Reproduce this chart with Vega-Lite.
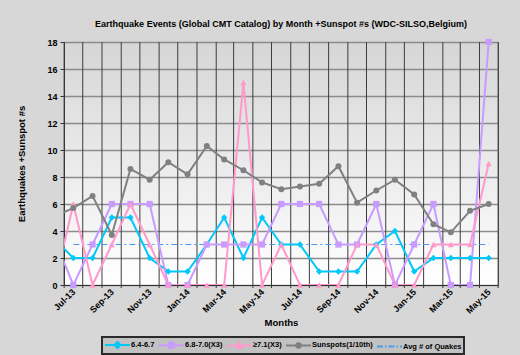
{
  "$schema": "https://vega.github.io/schema/vega-lite/v6.json",
  "width": 434,
  "height": 243,
  "autosize": "none",
  "padding": {"left": 64, "top": 42, "right": 22, "bottom": 70},
  "background": "#d7d7d7",
  "title": {"text": "Earthquake Events (Global CMT Catalog) by Month +Sunspot #s (WDC-SILSO,Belgium)", "font": "Liberation Sans", "fontSize": 9, "fontWeight": "bold", "color": "#000000", "anchor": "middle", "offset": 9},
  "data": {"values": [
    {"month": "2013/06/01", "series": "6.4-6.7", "value": 3.4},
    {"month": "2013/07/01", "series": "6.4-6.7", "value": 2},
    {"month": "2013/08/01", "series": "6.4-6.7", "value": 2},
    {"month": "2013/09/01", "series": "6.4-6.7", "value": 5},
    {"month": "2013/10/01", "series": "6.4-6.7", "value": 5},
    {"month": "2013/11/01", "series": "6.4-6.7", "value": 2},
    {"month": "2013/12/01", "series": "6.4-6.7", "value": 1},
    {"month": "2014/01/01", "series": "6.4-6.7", "value": 1},
    {"month": "2014/02/01", "series": "6.4-6.7", "value": 3},
    {"month": "2014/03/01", "series": "6.4-6.7", "value": 5},
    {"month": "2014/04/01", "series": "6.4-6.7", "value": 2},
    {"month": "2014/05/01", "series": "6.4-6.7", "value": 5},
    {"month": "2014/06/01", "series": "6.4-6.7", "value": 3},
    {"month": "2014/07/01", "series": "6.4-6.7", "value": 3},
    {"month": "2014/08/01", "series": "6.4-6.7", "value": 1},
    {"month": "2014/09/01", "series": "6.4-6.7", "value": 1},
    {"month": "2014/10/01", "series": "6.4-6.7", "value": 1},
    {"month": "2014/11/01", "series": "6.4-6.7", "value": 3},
    {"month": "2014/12/01", "series": "6.4-6.7", "value": 4},
    {"month": "2015/01/01", "series": "6.4-6.7", "value": 1},
    {"month": "2015/02/01", "series": "6.4-6.7", "value": 2},
    {"month": "2015/03/01", "series": "6.4-6.7", "value": 2},
    {"month": "2015/04/01", "series": "6.4-6.7", "value": 2},
    {"month": "2015/05/01", "series": "6.4-6.7", "value": 2},
    {"month": "2013/06/01", "series": "6.8-7.0(X3)", "value": 3.4},
    {"month": "2013/07/01", "series": "6.8-7.0(X3)", "value": 0},
    {"month": "2013/08/01", "series": "6.8-7.0(X3)", "value": 3},
    {"month": "2013/09/01", "series": "6.8-7.0(X3)", "value": 6},
    {"month": "2013/10/01", "series": "6.8-7.0(X3)", "value": 6},
    {"month": "2013/11/01", "series": "6.8-7.0(X3)", "value": 6},
    {"month": "2013/12/01", "series": "6.8-7.0(X3)", "value": 0},
    {"month": "2014/01/01", "series": "6.8-7.0(X3)", "value": 0},
    {"month": "2014/02/01", "series": "6.8-7.0(X3)", "value": 3},
    {"month": "2014/03/01", "series": "6.8-7.0(X3)", "value": 3},
    {"month": "2014/04/01", "series": "6.8-7.0(X3)", "value": 3},
    {"month": "2014/05/01", "series": "6.8-7.0(X3)", "value": 3},
    {"month": "2014/06/01", "series": "6.8-7.0(X3)", "value": 6},
    {"month": "2014/07/01", "series": "6.8-7.0(X3)", "value": 6},
    {"month": "2014/08/01", "series": "6.8-7.0(X3)", "value": 6},
    {"month": "2014/09/01", "series": "6.8-7.0(X3)", "value": 3},
    {"month": "2014/10/01", "series": "6.8-7.0(X3)", "value": 3},
    {"month": "2014/11/01", "series": "6.8-7.0(X3)", "value": 6},
    {"month": "2014/12/01", "series": "6.8-7.0(X3)", "value": 0},
    {"month": "2015/01/01", "series": "6.8-7.0(X3)", "value": 3},
    {"month": "2015/02/01", "series": "6.8-7.0(X3)", "value": 6},
    {"month": "2015/03/01", "series": "6.8-7.0(X3)", "value": 0},
    {"month": "2015/04/01", "series": "6.8-7.0(X3)", "value": 0},
    {"month": "2015/05/01", "series": "6.8-7.0(X3)", "value": 18},
    {"month": "2013/06/01", "series": "≥7.1(X3)", "value": 0},
    {"month": "2013/07/01", "series": "≥7.1(X3)", "value": 6},
    {"month": "2013/08/01", "series": "≥7.1(X3)", "value": 0},
    {"month": "2013/09/01", "series": "≥7.1(X3)", "value": 3},
    {"month": "2013/10/01", "series": "≥7.1(X3)", "value": 6},
    {"month": "2013/11/01", "series": "≥7.1(X3)", "value": 3},
    {"month": "2013/12/01", "series": "≥7.1(X3)", "value": 0},
    {"month": "2014/01/01", "series": "≥7.1(X3)", "value": 0},
    {"month": "2014/02/01", "series": "≥7.1(X3)", "value": 0},
    {"month": "2014/03/01", "series": "≥7.1(X3)", "value": 0},
    {"month": "2014/04/01", "series": "≥7.1(X3)", "value": 15},
    {"month": "2014/05/01", "series": "≥7.1(X3)", "value": 0},
    {"month": "2014/06/01", "series": "≥7.1(X3)", "value": 3},
    {"month": "2014/07/01", "series": "≥7.1(X3)", "value": 0},
    {"month": "2014/08/01", "series": "≥7.1(X3)", "value": 0},
    {"month": "2014/09/01", "series": "≥7.1(X3)", "value": 0},
    {"month": "2014/10/01", "series": "≥7.1(X3)", "value": 3},
    {"month": "2014/11/01", "series": "≥7.1(X3)", "value": 3},
    {"month": "2014/12/01", "series": "≥7.1(X3)", "value": 0},
    {"month": "2015/01/01", "series": "≥7.1(X3)", "value": 0},
    {"month": "2015/02/01", "series": "≥7.1(X3)", "value": 3},
    {"month": "2015/03/01", "series": "≥7.1(X3)", "value": 3},
    {"month": "2015/04/01", "series": "≥7.1(X3)", "value": 3},
    {"month": "2015/05/01", "series": "≥7.1(X3)", "value": 9},
    {"month": "2013/06/01", "series": "Sunspots(1/10th)", "value": 5.1},
    {"month": "2013/07/01", "series": "Sunspots(1/10th)", "value": 5.7},
    {"month": "2013/08/01", "series": "Sunspots(1/10th)", "value": 6.6},
    {"month": "2013/09/01", "series": "Sunspots(1/10th)", "value": 3.7},
    {"month": "2013/10/01", "series": "Sunspots(1/10th)", "value": 8.6},
    {"month": "2013/11/01", "series": "Sunspots(1/10th)", "value": 7.8},
    {"month": "2013/12/01", "series": "Sunspots(1/10th)", "value": 9.1},
    {"month": "2014/01/01", "series": "Sunspots(1/10th)", "value": 8.2},
    {"month": "2014/02/01", "series": "Sunspots(1/10th)", "value": 10.3},
    {"month": "2014/03/01", "series": "Sunspots(1/10th)", "value": 9.3},
    {"month": "2014/04/01", "series": "Sunspots(1/10th)", "value": 8.5},
    {"month": "2014/05/01", "series": "Sunspots(1/10th)", "value": 7.6},
    {"month": "2014/06/01", "series": "Sunspots(1/10th)", "value": 7.1},
    {"month": "2014/07/01", "series": "Sunspots(1/10th)", "value": 7.3},
    {"month": "2014/08/01", "series": "Sunspots(1/10th)", "value": 7.5},
    {"month": "2014/09/01", "series": "Sunspots(1/10th)", "value": 8.8},
    {"month": "2014/10/01", "series": "Sunspots(1/10th)", "value": 6.1},
    {"month": "2014/11/01", "series": "Sunspots(1/10th)", "value": 7.0},
    {"month": "2014/12/01", "series": "Sunspots(1/10th)", "value": 7.8},
    {"month": "2015/01/01", "series": "Sunspots(1/10th)", "value": 6.7},
    {"month": "2015/02/01", "series": "Sunspots(1/10th)", "value": 4.5},
    {"month": "2015/03/01", "series": "Sunspots(1/10th)", "value": 3.9},
    {"month": "2015/04/01", "series": "Sunspots(1/10th)", "value": 5.5},
    {"month": "2015/05/01", "series": "Sunspots(1/10th)", "value": 6.0},
    {"month": "2013/07/01", "series": "Avg # of Quakes", "value": 3},
    {"month": "2013/08/01", "series": "Avg # of Quakes", "value": 3},
    {"month": "2013/09/01", "series": "Avg # of Quakes", "value": 3},
    {"month": "2013/10/01", "series": "Avg # of Quakes", "value": 3},
    {"month": "2013/11/01", "series": "Avg # of Quakes", "value": 3},
    {"month": "2013/12/01", "series": "Avg # of Quakes", "value": 3},
    {"month": "2014/01/01", "series": "Avg # of Quakes", "value": 3},
    {"month": "2014/02/01", "series": "Avg # of Quakes", "value": 3},
    {"month": "2014/03/01", "series": "Avg # of Quakes", "value": 3},
    {"month": "2014/04/01", "series": "Avg # of Quakes", "value": 3},
    {"month": "2014/05/01", "series": "Avg # of Quakes", "value": 3},
    {"month": "2014/06/01", "series": "Avg # of Quakes", "value": 3},
    {"month": "2014/07/01", "series": "Avg # of Quakes", "value": 3},
    {"month": "2014/08/01", "series": "Avg # of Quakes", "value": 3},
    {"month": "2014/09/01", "series": "Avg # of Quakes", "value": 3},
    {"month": "2014/10/01", "series": "Avg # of Quakes", "value": 3},
    {"month": "2014/11/01", "series": "Avg # of Quakes", "value": 3},
    {"month": "2014/12/01", "series": "Avg # of Quakes", "value": 3},
    {"month": "2015/01/01", "series": "Avg # of Quakes", "value": 3},
    {"month": "2015/02/01", "series": "Avg # of Quakes", "value": 3},
    {"month": "2015/03/01", "series": "Avg # of Quakes", "value": 3},
    {"month": "2015/04/01", "series": "Avg # of Quakes", "value": 3},
    {"month": "2015/05/01", "series": "Avg # of Quakes", "value": 3}
  ]},
  "encoding": {
    "x": {"field": "month", "type": "temporal",
      "scale": {"domain": [{"year": 2013, "month": 6, "date": 16}, {"year": 2015, "month": 5, "date": 16}]},
      "axis": {"values": [
        {"year": 2013, "month": 7, "date": 1}, {"year": 2013, "month": 9, "date": 1}, {"year": 2013, "month": 11, "date": 1},
        {"year": 2014, "month": 1, "date": 1}, {"year": 2014, "month": 3, "date": 1}, {"year": 2014, "month": 5, "date": 1}, {"year": 2014, "month": 7, "date": 1}, {"year": 2014, "month": 9, "date": 1}, {"year": 2014, "month": 11, "date": 1},
        {"year": 2015, "month": 1, "date": 1}, {"year": 2015, "month": 3, "date": 1}, {"year": 2015, "month": 5, "date": 1}],
        "format": "%b-%y",
        "grid": false, "ticks": false, "domainColor": "#333333",
        "labelAngle": -45, "labelAlign": "right", "labelBaseline": "middle", "labelPadding": 5, "labelFont": "Liberation Sans", "labelFontSize": 9, "labelFontWeight": "bold", "labelColor": "#000000", "labelOverlap": false, "labelBound": false,
        "title": "Months", "titleFont": "Liberation Sans", "titleFontSize": 9.5, "titleFontWeight": "bold", "titleColor": "#000000", "titlePadding": 2}},
    "y": {"field": "value", "type": "quantitative", "scale": {"domain": [0, 18], "nice": false},
      "axis": {"values": [0, 2, 4, 6, 8, 10, 12, 14, 16, 18], "grid": true, "gridColor": "#8c8c8c", "gridWidth": 1.5, "domainColor": "#333333", "tickColor": "#333333", "tickSize": 4, "labelPadding": 3, "labelFont": "Liberation Sans", "labelFontSize": 9, "labelFontWeight": "bold", "labelColor": "#000000", "title": "Earthquakes +Sunspot #s", "titleFont": "Liberation Sans", "titleFontSize": 9.5, "titleFontWeight": "bold", "titleColor": "#000000", "titlePadding": 20}},
    "color": {"field": "series", "type": "nominal",
      "scale": {"domain": ["6.4-6.7", "6.8-7.0(X3)", "≥7.1(X3)", "Sunspots(1/10th)", "Avg # of Quakes"], "range": ["#00c8f8", "#c89bff", "#ff99cc", "#808080", "#4a9cf0"]},
      "legend": {"orient": "none", "legendX": 38, "legendY": 295, "direction": "horizontal", "title": null, "fillColor": "#c2c2c2", "strokeColor": "#2a2a2a", "padding": 2, "symbolSize": 100, "labelFont": "Liberation Sans", "labelFontSize": 7.5, "labelFontWeight": "bold", "labelColor": "#000000", "labelOffset": 15, "labelLimit": 80, "columnPadding": 0,
        "encode": {"legend": {"update": {"strokeWidth": {"value": 2}}},
          "symbols": {"update": {
            "shape": {"signal": "{'6.4-6.7':'M-1,0H4M1.5,-0.6L2.1,0L1.5,0.6L0.9,0Z','6.8-7.0(X3)':'M-1,0H4M1,-0.5H2V0.5H1Z','≥7.1(X3)':'M-1,0H4M1.5,-0.6L2.05,0.45H0.95Z','Sunspots(1/10th)':'M-1,0H4M1.05,0A0.45,0.45,0,1,0,1.95,0A0.45,0.45,0,1,0,1.05,0Z','Avg # of Quakes':'M-1,0H0.2M0.6,0H0.9M1.3,0H2.5M2.9,0H3.2M3.6,0H4'}[datum.value]"},
            "fill": {"scale": "color", "field": "value"},
            "stroke": {"scale": "color", "field": "value"},
            "strokeWidth": {"value": 2},
            "opacity": {"value": 1},
            "fillOpacity": {"value": 1},
            "strokeOpacity": {"value": 1}}}}}}
  },
  "layer": [
    {
      "transform": [{"filter": "datum.series === 'Sunspots(1/10th)'"}],
      "mark": {"type": "rule", "xOffset": 9.43, "y2Offset": 3, "strokeWidth": 1},
      "encoding": {"y": {"value": 0}, "y2": {"value": "height"}, "color": {"value": "#3c3c3c"}}
    },
    {
      "transform": [{"filter": "datum.series === 'Avg # of Quakes'"}],
      "mark": {"type": "line", "strokeWidth": 1.2, "strokeDash": [6, 3, 2, 3], "clip": true}
    },
    {
      "transform": [{"filter": "datum.series !== 'Avg # of Quakes'"}],
      "mark": {"type": "line", "clip": true},
      "encoding": {
        "strokeWidth": {"field": "series", "type": "nominal", "scale": {"domain": ["6.4-6.7", "6.8-7.0(X3)", "≥7.1(X3)", "Sunspots(1/10th)"], "range": [2, 2, 2, 1.5]}, "legend": null}
      }
    },
    {
      "transform": [{"filter": "datum.series !== 'Avg # of Quakes' && time(datum.month) > time(datetime(2013, 5, 20))"}],
      "mark": {"type": "point", "filled": true, "opacity": 1},
      "encoding": {
        "shape": {"field": "series", "type": "nominal", "scale": {"domain": ["6.4-6.7", "6.8-7.0(X3)", "≥7.1(X3)", "Sunspots(1/10th)"], "range": ["diamond", "square", "triangle-up", "circle"]}, "legend": null},
        "size": {"field": "series", "type": "nominal", "scale": {"domain": ["6.4-6.7", "6.8-7.0(X3)", "≥7.1(X3)", "Sunspots(1/10th)"], "range": [40, 36, 40, 30]}, "legend": null}
      }
    }
  ],
  "config": {"view": {"stroke": "#555555", "strokeWidth": 1, "fill": {"gradient": "linear", "x1": 0, "y1": 0, "x2": 0, "y2": 1, "stops": [{"offset": 0, "color": "#d6d6d6"}, {"offset": 1, "color": "#ffffff"}]}}}
}
